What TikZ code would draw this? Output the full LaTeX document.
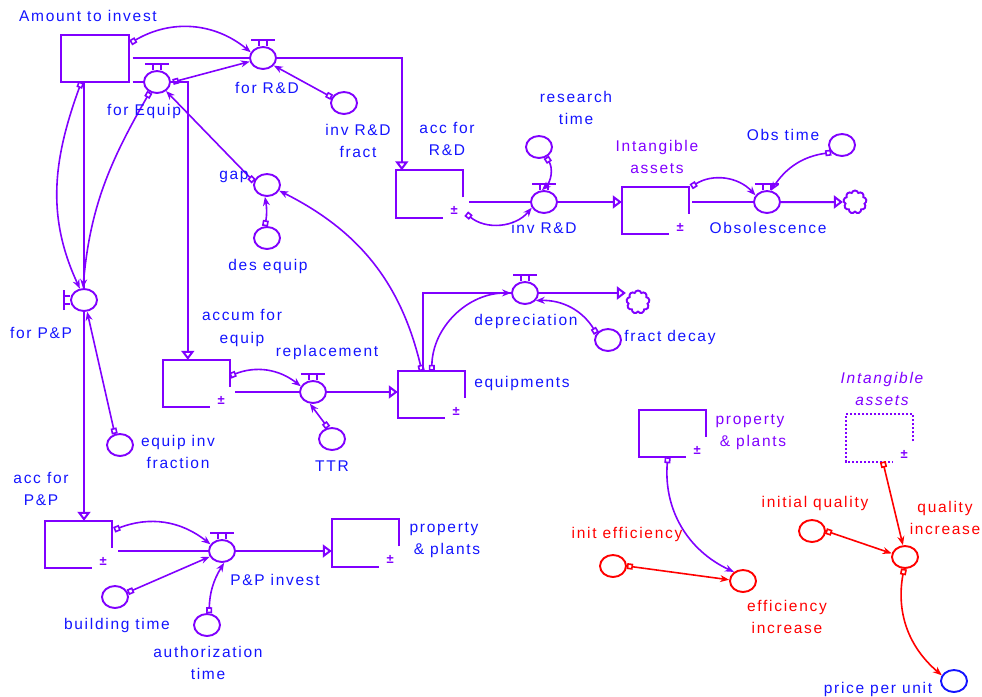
\documentclass[tikz,border=0pt]{standalone}
\usepackage{fontspec}
\setmainfont[LetterSpace=11]{Liberation Sans}
\usepackage{tikz}
\usetikzlibrary{calc,positioning,arrows.meta,shapes.geometric,shapes.symbols}
\definecolor{vpurple}{RGB}{128,0,255}
\definecolor{vblue}{RGB}{20,20,255}
\definecolor{vred}{RGB}{255,0,0}

% stock box, open at the lower right corner
\newcommand{\stockframe}[2][]{%
  \draw[pipe,#1] ([yshift=-27pt]#2.north east) -- (#2.north east) -- (#2.north west)
    -- (#2.south west) -- ([xshift=47pt]#2.south west);
  \node[pm] (#2-pm) at ([xshift=-9pt,yshift=7pt]#2.south east) {±};}
% valve bar above a flow circle
\newcommand{\valvebar}[1]{%
  \draw[pipe] ([xshift=-12pt,yshift=6pt]#1.north) -- ([xshift=12pt,yshift=6pt]#1.north);
  \draw[pipe,line width=1.2pt] ([xshift=-4pt,yshift=6pt]#1.north) -- ([xshift=-4pt]#1.north)
    ([xshift=4pt,yshift=6pt]#1.north) -- ([xshift=4pt]#1.north);}

\begin{document}
\begin{tikzpicture}[
    x=1pt, y=-1pt,
    txt/.style={text=vblue, align=center, inner sep=1pt, font=\fontsize{15.5}{22.5}\selectfont},
    txtp/.style={txt, text=vpurple},
    txtr/.style={txt, text=vred},
    pipe/.style={draw=vpurple, line width=2pt},
    flow/.style={pipe, -{Triangle[open,length=9pt,width=13pt]}},
    stock/.style={rectangle, minimum width=67pt, minimum height=47pt, inner sep=0pt},
    aux/.style={ellipse, draw=vpurple, line width=1.9pt, minimum width=26pt, minimum height=22pt, inner sep=0pt},
    raux/.style={aux, draw=vred},
    sink/.style={cloud, cloud puffs=9, aspect=1, draw=vpurple, line width=1.9pt, minimum size=23pt, inner sep=0pt},
    pm/.style={text=vpurple, font=\fontsize{13}{13}\selectfont\bfseries, inner sep=0pt},
    link/.style={draw=vpurple, line width=1.6pt, {Square[open,length=6pt,width=6pt]}-{Stealth[length=9pt,width=7pt]}},
    redlink/.style={link, draw=vred},
  ]
  \useasboundingbox (0,0) rectangle (982,696);

  % stocks
  \node[stock] (amount) at (95,58.5) {};
  \draw[pipe] (amount.north west) rectangle (amount.south east);
  \node[stock] (accRD) at (429.5,194) {};
  \node[stock] (intang) at (655.5,210.5) {};
  \node[stock] (accumEq) at (196.5,383.5) {};
  \node[stock] (equip) at (431.5,394.5) {};
  \node[stock] (accPP) at (78.5,544.5) {};
  \node[stock] (propPlants) at (365.5,543) {};
  \node[stock] (propShadow) at (672.5,433.5) {};
  \node[stock] (intangShadow) at (879.5,438) {};
  \foreach \s in {accRD,intang,accumEq,equip,accPP,propPlants,propShadow}
    \stockframe{\s};
  \stockframe[dotted]{intangShadow}

  % flows
  \node[aux] (forRD) at (263,58) {};
  \node[aux] (forEquip) at (157,82) {};
  \node[aux] (forPP) at (84,300) {};
  \node[aux] (invRD) at (544,202) {};
  \node[aux] (obsol) at (767,202) {};
  \node[aux] (repl) at (313,392) {};
  \node[aux] (deprec) at (525,293) {};
  \node[aux] (ppInvest) at (222,551) {};
  \foreach \v in {forRD,forEquip,invRD,obsol,repl,deprec,ppInvest}
    \valvebar{\v};
  \draw[pipe] ([xshift=-6pt,yshift=-10pt]forPP.west) -- ([xshift=-6pt,yshift=10pt]forPP.west);
  \draw[pipe,line width=1.2pt] ([xshift=-6pt,yshift=-4pt]forPP.west) -- ([yshift=-4pt]forPP.west)
    ([xshift=-6pt,yshift=4pt]forPP.west) -- ([yshift=4pt]forPP.west);
  \node[sink] (cloudObs) at (855,202) {};
  \node[sink] (cloudDep) at (638,302) {};

  % auxiliaries
  \node[aux] (invRDfract) at (344,103) {};
  \node[aux] (researchTime) at (539,147) {};
  \node[aux] (obsTime) at (842,145) {};
  \node[aux] (gap) at (267,185) {};
  \node[aux] (desEquip) at (267,238) {};
  \node[aux] (equipInvFrac) at (120,445) {};
  \node[aux] (TTR) at (332,439) {};
  \node[aux] (fractDecay) at (608,340) {};
  \node[aux] (buildTime) at (115,597) {};
  \node[aux] (authTime) at (207,625) {};
  \node[raux] (initEff) at (613,566) {};
  \node[raux] (effInc) at (743,581) {};
  \node[raux] (initQual) at (812,531) {};
  \node[raux] (qualInc) at (905,557) {};
  \node[aux, draw=vblue] (price) at (954,681) {};

  % pipes
  \draw[pipe] ($(amount.east |- forRD)+(4,0)$) -- (forRD);
  \draw[flow] (forRD) -| ($(accRD.north west)+(6,0)$);
  \draw[pipe] ($(amount.east |- forEquip)+(4,0)$) -- (forEquip);
  \draw[flow] (forEquip) -| ($(accumEq.north west)+(25,0)$);
  \draw[pipe] (forPP |- amount.south) -- (forPP);
  \draw[flow] (forPP) -- (forPP |- accPP.north);
  \draw[pipe] ($(accRD.east |- invRD)+(6,0)$) -- (invRD);
  \draw[flow] (invRD) -- (intang.west |- invRD);
  \draw[pipe] ($(intang.east |- obsol)+(3,0)$) -- (obsol);
  \draw[flow] (obsol) -- (cloudObs);
  \draw[pipe] ($(accumEq.east |- repl)+(5,0)$) -- (repl);
  \draw[flow] (repl) -- (equip.west |- repl);
  \draw[pipe] ($(equip.north west)+(25,0)$) |- (deprec);
  \draw[flow] (deprec) -- (cloudDep.west |- deprec);
  \draw[pipe] ($(accPP.east |- ppInvest)+(6,0)$) -- (ppInvest);
  \draw[flow] (ppInvest) -- (propPlants.west |- ppInvest);

  % links
  \draw[link] ($(amount.north east)+(2,8)$) to[bend left=35] (forRD.155);
  \draw[link] ($(forEquip.east)+(2,0)$) -- (forRD.195);
  \draw[link] (invRDfract.155) -- (forRD.-35);
  \draw[link] (gap.165) -- (forEquip.-45);
  \draw[link] ($(amount.south west)+(20,0)$) to[out=250,in=115] (forPP.110);
  \draw[link] (forEquip.235) to[out=240,in=85] (forPP.95);
  \draw[link] (equipInvFrac.115) -- (forPP.-75);
  \draw[link] (desEquip.100) to[bend right=10] (gap.-100);
  \draw[link] ($(equip.north west)+(24,0)$) to[bend right=25] (gap.-25);
  \draw[link] ($(equip.north west)+(34,0)$) to[bend left=45] (deprec.west);
  \draw[link] (fractDecay.150) to[bend right=30] (deprec.-35);
  \draw[link] ($(accumEq.north east)+(0,16)$) to[bend left=30] (repl.155);
  \draw[link] (TTR.110) -- (repl.-105);
  \draw[link] ($(accRD.south east)+(3,-4)$) to[bend right=45] (invRD.205);
  \draw[link] (researchTime.-55) to[bend left=40] (invRD.100);
  \draw[link] ($(intang.north east)+(2,0)$) to[bend left=40] (obsol.150);
  \draw[link] (obsTime.215) to[bend right=25] (obsol.70);
  \draw[link] ($(accPP.north east)+(2,9)$) to[bend left=30] (ppInvest.150);
  \draw[link] (buildTime.20) -- (ppInvest.205);
  \draw[link] (authTime.80) to[bend left=15] (ppInvest.-80);
  \draw[link] ($(propShadow.south west)+(29,0)$) to[bend right=35] (effInc.135);
  \draw[redlink] (initEff.east) -- (effInc.175);
  \draw[redlink] ($(intangShadow.south west)+(37,0)$) -- (qualInc.100);
  \draw[redlink] (initQual.east) -- (qualInc.165);
  \draw[redlink] (qualInc.-95) to[bend right=30] (price.155);

  % labels
  \node[txt] (lblAmount) at (88,16) {Amount to invest};
  \node[txt] (lblForRD) at (267,88) {for R\&D};
  \node[txt] (lblForEquip) at (144,111) {for Equip};
  \node[txt] (lblInvRDfract) at (358,141) {inv R\&D\\fract};
  \node[txt] (lblAccRD) at (447,139) {acc for\\R\&D};
  \node[txt] (lblResearch) at (576,108) {research\\time};
  \node[txtp] (lblIntang) at (657,157) {Intangible\\assets};
  \node[txt] (lblObsTime) at (783,135) {Obs time};
  \node[txt] (lblInvRD) at (544,228) {inv R\&D};
  \node[txt] (lblObsol) at (768,228) {Obsolescence};
  \node[txt] (lblGap) at (234,177) {gap};
  \node[txt] (lblDesEquip) at (268,266) {des equip};
  \node[txt] (lblForPP) at (41,333) {for P\&P};
  \node[txt] (lblAccumEq) at (242,328) {accum for\\equip};
  \node[txt] (lblRepl) at (327,352) {replacement};
  \node[txt] (lblDeprec) at (526,321) {depreciation};
  \node[txt] (lblFractDecay) at (670,337) {fract decay};
  \node[txt] (lblEquip) at (522,383) {equipments};
  \node[txt] (lblEquipInv) at (178,452) {equip inv\\fraction};
  \node[txt] (lblTTR) at (332,466) {TTR};
  \node[txt] (lblAccPP) at (41,489) {acc for\\P\&P};
  \node[txt] (lblPPInvest) at (275,580) {P\&P invest};
  \node[txt] (lblProp) at (444,540) {property\\\ \& plants};
  \node[txt] (lblBuild) at (117,625) {building time};
  \node[txt] (lblAuth) at (208,663) {authorization\\time};
  \node[txtp] (lblPropSh) at (750,432) {property\\\ \& plants};
  \node[txtp, font=\fontsize{15.5}{22.5}\selectfont\itshape] (lblIntangSh) at (882,389) {Intangible\\assets};
  \node[txtr] (lblInitEff) at (627,534) {init efficiency};
  \node[txtr] (lblEffInc) at (787,617) {efficiency\\increase};
  \node[txtr] (lblInitQual) at (815,503) {initial quality};
  \node[txtr] (lblQualInc) at (945,518) {quality\\increase};
  \node[txt] (lblPrice) at (878,689) {price per unit};
\end{tikzpicture}
\end{document}
